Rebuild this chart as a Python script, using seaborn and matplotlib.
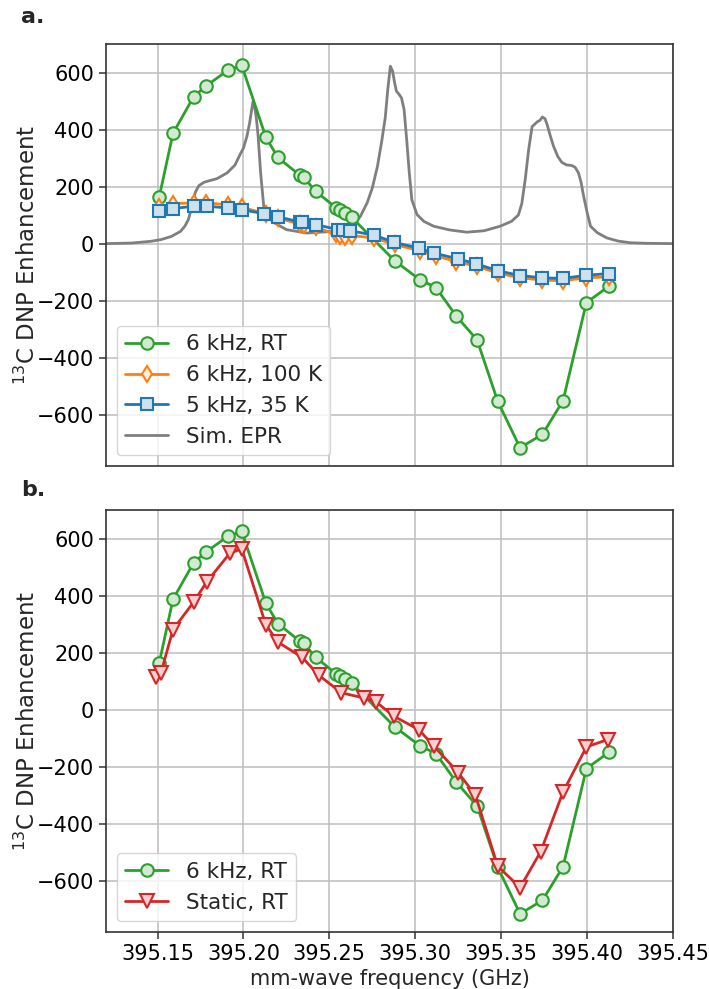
import matplotlib
matplotlib.use("Agg")
import matplotlib.pyplot as plt
import seaborn as sns
import numpy as np
import pandas as pd
from matplotlib.colors import to_rgba

# ---------------- data ----------------
rt_x = [395.151, 395.159, 395.171, 395.178, 395.191, 395.199, 395.213, 395.220, 395.233, 395.235,
        395.242, 395.254, 395.256, 395.259, 395.263, 395.288, 395.3025, 395.312, 395.324, 395.336,
        395.348, 395.361, 395.374, 395.386, 395.3996, 395.413]
rt_y = [164, 387, 515, 552, 608, 625, 374, 302, 239, 232,
        184, 125, 117, 108, 92, -60, -126, -154, -255, -338,
        -553, -716, -669, -551, -207, -148]

k100_x = [395.151, 395.159, 395.171, 395.178, 395.191, 395.199, 395.213, 395.220, 395.233, 395.235,
          395.242, 395.254, 395.256, 395.259, 395.263, 395.276, 395.288, 395.3025, 395.312, 395.324,
          395.336, 395.348, 395.361, 395.374, 395.386, 395.3996, 395.413]
k100_y = [128, 140, 143, 143, 136, 128, 104, 90, 68, 66,
          58, 32, 28, 24, 28, 20, -3, -25, -43, -63,
          -80, -103, -120, -128, -130, -120, -116]

k35_x = [395.151, 395.159, 395.171, 395.1785, 395.191, 395.199, 395.212, 395.220, 395.233, 395.234,
         395.242, 395.255, 395.258, 395.262, 395.276, 395.2875, 395.302, 395.311, 395.325, 395.3355,
         395.348, 395.361, 395.374, 395.386, 395.3996, 395.4125]
k35_y = [116, 123, 131, 131, 125, 119, 105, 94, 76, 75,
         67, 49, 47, 45, 30, 5, -16, -33, -54, -71,
         -95, -112, -120, -122, -111, -105]

st_x = [395.149, 395.152, 395.159, 395.171, 395.1785, 395.192, 395.199, 395.213, 395.220, 395.234,
        395.244, 395.257, 395.270, 395.277, 395.2875, 395.302, 395.311, 395.325, 395.335, 395.348,
        395.361, 395.373, 395.386, 395.3996, 395.412]
st_y = [115, 129, 281, 377, 447, 548, 564, 298, 237, 184,
        120, 59, 41, 28, -23, -70, -129, -221, -300, -549,
        -624, -498, -289, -131, -105]

epr_x = [395.1205, 395.135, 395.146, 395.152, 395.158, 395.1634, 395.166, 395.168, 395.170, 395.172,
         395.174, 395.177, 395.181, 395.1847, 395.1905, 395.195, 395.198, 395.200, 395.202, 395.2035,
         395.2048, 395.2056, 395.2065, 395.2075, 395.2085, 395.210, 395.212, 395.215, 395.218, 395.225,
         395.237, 395.2525, 395.260, 395.264, 395.268, 395.272, 395.275, 395.278, 395.2805, 395.2825,
         395.284, 395.2855, 395.2868, 395.288, 395.289, 395.2905, 395.292, 395.2935, 395.295, 395.2965,
         395.298, 395.301, 395.305, 395.3107, 395.320, 395.330, 395.340, 395.3494, 395.356, 395.360,
         395.362, 395.364, 395.366, 395.368, 395.371, 395.3725, 395.374, 395.3755, 395.3767, 395.3785,
         395.3805, 395.383, 395.3853, 395.388, 395.391, 395.393, 395.395, 395.3965, 395.398, 395.400,
         395.402, 395.406, 395.4115, 395.418, 395.425, 395.435, 395.45]
epr_y = [0, 2, 8, 14, 25, 43, 62, 85, 130, 180,
         203, 215, 222, 228, 248, 275, 312, 335, 376, 420,
         470, 499, 480, 440, 380, 248, 119, 88, 73, 49,
         37, 43, 55, 67, 95, 143, 195, 271, 360, 440,
         540, 622, 605, 564, 535, 524, 511, 470, 365, 250,
         154, 102, 78, 61, 48, 40, 45, 61, 78, 100,
         140, 225, 330, 410, 427, 432, 444, 438, 418, 380,
         341, 305, 285, 276, 274, 268, 248, 215, 166, 110,
         61, 38, 20, 9, 3, 1, 0]

yticks = [-600, -400, -200, 0, 200, 400, 600]
xticks = [395.15, 395.20, 395.25, 395.30, 395.35, 395.40, 395.45]

# ---------------- style ----------------
sns.set_theme(style="whitegrid", rc={
    "axes.edgecolor": "#333333",
    "axes.linewidth": 1.2,
    "grid.color": "#bdbdbd",
    "grid.linewidth": 1.1,
    "xtick.bottom": True,
    "ytick.left": True,
    "xtick.color": "#333333",
    "ytick.color": "#333333",
    "xtick.major.size": 5,
    "ytick.major.size": 5,
    "xtick.labelcolor": "black",
    "ytick.labelcolor": "black",
})
plt.rcParams["font.family"] = ["DejaVu Sans"]

GREEN = "#2ca02c"
ORANGE = "#ff7f0e"
BLUE = "#1f77b4"
RED = "#d62728"
GRAY = "#7f7f7f"


def light(c, a=0.22):
    r, g, b, _ = to_rgba(c)
    return (1 - a * (1 - r), 1 - a * (1 - g), 1 - a * (1 - b))


fig = plt.figure(figsize=(7.09, 9.89), dpi=100)
ax1 = fig.add_axes([0.1495, 0.5288, 0.7997, 0.4267])
ax2 = fig.add_axes([0.1495, 0.0576, 0.7997, 0.4267])

common = dict(estimator=None, sort=False, linewidth=2)

# --- panel a ---
sns.lineplot(x=rt_x, y=rt_y, ax=ax1, color=GREEN, marker="o", markersize=9,
             markerfacecolor=light(GREEN), markeredgecolor=GREEN, markeredgewidth=1.5,
             label="6 kHz, RT", zorder=3, **common)
sns.lineplot(x=k100_x, y=k100_y, ax=ax1, color=ORANGE, marker="d", markersize=8.5,
             markerfacecolor=light(ORANGE, 0.12), markeredgecolor=ORANGE, markeredgewidth=1.5,
             label="6 kHz, 100 K", zorder=3, **common)
sns.lineplot(x=k35_x, y=k35_y, ax=ax1, color=BLUE, marker="s", markersize=9,
             markerfacecolor=light(BLUE), markeredgecolor=BLUE, markeredgewidth=1.5,
             label="5 kHz, 35 K", zorder=3, **common)
sns.lineplot(x=epr_x, y=epr_y, ax=ax1, color=GRAY, label="Sim. EPR", zorder=2, **common)

# --- panel b ---
sns.lineplot(x=rt_x, y=rt_y, ax=ax2, color=GREEN, marker="o", markersize=9,
             markerfacecolor=light(GREEN), markeredgecolor=GREEN, markeredgewidth=1.5,
             label="6 kHz, RT", zorder=3, **common)
sns.lineplot(x=st_x, y=st_y, ax=ax2, color=RED, marker="v", markersize=10,
             markerfacecolor=light(RED), markeredgecolor=RED, markeredgewidth=1.5,
             label="Static, RT", zorder=3, **common)

for ax in (ax1, ax2):
    ax.set_xlim(395.12, 395.45)
    ax.set_ylim(-780, 700)
    ax.set_xticks(xticks)
    ax.set_yticks(yticks)
    ax.tick_params(labelsize=15, width=1.1)
    ax.set_ylabel(r"$^{13}$C DNP Enhancement", fontsize=16.5)
    ax.grid(True)
    for s in ax.spines.values():
        s.set_visible(True)
        s.set_color("#333333")
    leg = ax.legend(loc="lower left", fontsize=15.5, frameon=True, fancybox=True,
                    framealpha=0.8, edgecolor="#cccccc", handlelength=2.0,
                    labelspacing=0.5)

ax1.tick_params(axis="x", bottom=False, labelbottom=False)
ax1.set_xlabel("")
ax2.set_xticklabels([f"{v:.2f}" for v in xticks])
ax2.set_xlabel("mm-wave frequency (GHz)", fontsize=15)

ax1.yaxis.set_label_coords(-0.117, 0.5)
ax2.yaxis.set_label_coords(-0.117, 0.5)

fig.text(0.03, 0.993, "a.", fontsize=16, fontweight="bold", va="top", ha="left")
fig.text(0.03, 0.515, "b.", fontsize=16, fontweight="bold", va="top", ha="left")

fig.savefig("out.png", dpi=100)
